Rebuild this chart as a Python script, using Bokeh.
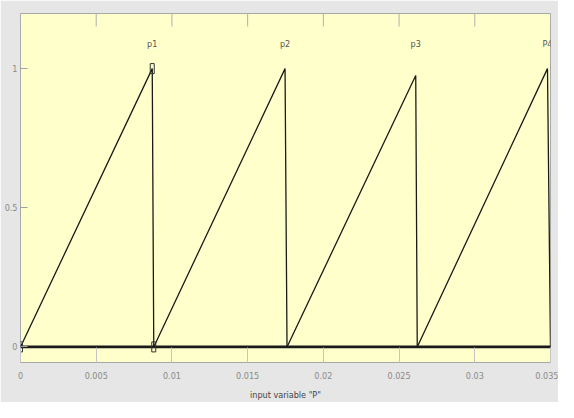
import math
from bokeh.plotting import figure
from bokeh.models import FixedTicker, Range1d, ColumnDataSource
from bokeh.core.properties import value
from bokeh.embed import file_html
from bokeh.resources import INLINE

# Membership functions of input variable "P" (trimf a, b, c and peak height)
mf_names = ["p1", "p2", "p3", "P4"]
mf_a = [0.0, 0.0088, 0.0176, 0.0262]
mf_b = [0.0087, 0.01747, 0.0261, 0.0348]
mf_c = [0.0088, 0.0176, 0.0262, 0.035]
mf_peak = [1.0, 1.0, 0.975, 1.0]

x_min, x_max = 0.0, 0.035
y_min, y_max = -0.056, 1.198
x_ticks = [0, 0.005, 0.01, 0.015, 0.02, 0.025, 0.03, 0.035]
x_tick_labels = ["0", "0.005", "0.01", "0.015", "0.02", "0.025", "0.03", "0.035"]
y_ticks = [0, 0.5, 1]
y_tick_labels = ["0", "0.5", "1"]
selected = 0  # p1 is highlighted

FONT = "'Liberation Sans Narrow', 'DejaVu Sans Condensed', 'Liberation Sans', sans-serif"
GRAY_TXT = "#8a8a8a"

p = figure(width=558, height=402, output_backend="svg", toolbar_location=None,
           x_range=Range1d(x_min, x_max), y_range=Range1d(y_min, y_max),
           min_border_left=20, min_border_right=8, min_border_top=13, min_border_bottom=10,
           background_fill_color="#ffffcc", border_fill_color="#e6e6e6",
           outline_line_color="#a8a8a8", outline_line_width=1)

p.xgrid.grid_line_color = None
p.ygrid.grid_line_color = None

# bottom axis
xa = p.xaxis[0]
xa.ticker = FixedTicker(ticks=x_ticks)
xa.major_label_overrides = {t: l for t, l in zip(x_ticks, x_tick_labels)}
xa.minor_tick_line_color = None
xa.major_tick_in = 15
xa.major_tick_out = 0
xa.major_tick_line_color = "#c4c4c4"
xa.axis_line_color = None
xa.major_label_standoff = 9
xa.major_label_text_font = FONT
xa.major_label_text_font_size = "9px"
xa.major_label_text_color = GRAY_TXT
xa.axis_label = 'input variable "P"'
xa.axis_label_text_font = FONT
xa.axis_label_text_font_size = "9px"
xa.axis_label_text_font_style = "normal"
xa.axis_label_text_color = "#444444"
xa.axis_label_standoff = 8

# left axis
ya = p.yaxis[0]
ya.ticker = FixedTicker(ticks=y_ticks)
ya.major_label_overrides = {t: l for t, l in zip(y_ticks, y_tick_labels)}
ya.minor_tick_line_color = None
ya.major_tick_in = 7
ya.major_tick_out = 0
ya.major_tick_line_color = "#a0a0a0"
ya.axis_line_color = None
ya.major_label_standoff = 3
ya.major_label_text_font = FONT
ya.major_label_text_font_size = "9px"
ya.major_label_text_color = GRAY_TXT

# inner tick marks along the top edge (half of each dash is clipped by the frame)
p.scatter(x=x_ticks, y=[y_max] * len(x_ticks), marker="dash", angle=math.pi / 2,
          size=26, line_color="#b0b0b0", line_width=1)

# membership function lines over full x range
xs, ys = [], []
for a, b, c, h in zip(mf_a, mf_b, mf_c, mf_peak):
    xs.append([x_min, a, b, c, x_max])
    ys.append([0, 0, h, 0, 0])
p.multi_line(xs=xs, ys=ys, line_color="#1a1a1a", line_width=1.3)

# overlapping zero parts read as a thick baseline
p.line(x=[x_min, x_max], y=[0, 0], line_color="#1a1a1a", line_width=2.6)

# selected MF vertex handles
sx = [mf_a[selected], mf_b[selected], mf_c[selected]]
sy = [0, mf_peak[selected], 0]
p.rect(x=sx, y=sy, width=4, height=10, width_units="screen", height_units="screen",
       fill_color=None, line_color="#333333", line_width=1)

# MF name labels above peaks
src = ColumnDataSource(dict(x=mf_b, y=[1.09] * len(mf_b), t=mf_names))
p.text(x="x", y="y", text="t", source=src, text_align="center", text_baseline="middle",
       text_font=value(FONT), text_font_size="9px", text_color="#555555")

open("out.html", "w").write(file_html(p, INLINE))
